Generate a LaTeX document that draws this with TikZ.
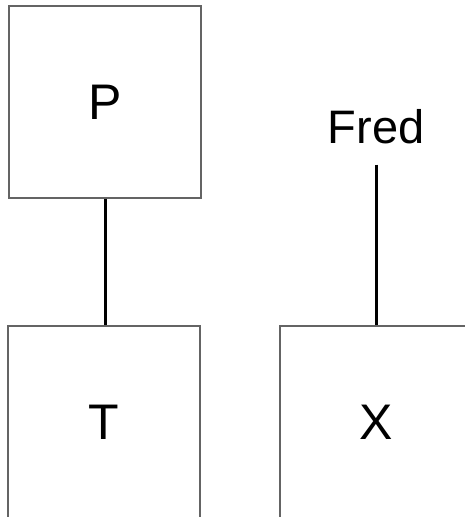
\documentclass[tikz,border=0pt]{standalone}
\usepackage{fontspec}
\setmainfont{Liberation Sans}
\definecolor{boxgray}{RGB}{100,100,100}
\begin{document}
\begin{tikzpicture}[x=1pt,y=-1pt,
  box/.style={draw=boxgray,line width=1.2pt,minimum width=192pt,minimum height=192pt,inner sep=0pt,font=\fontsize{50}{52}\selectfont},
  lbl/.style={inner sep=0pt,font=\fontsize{47}{49}\selectfont},
  link/.style={line width=3pt,black}]
\useasboundingbox (0,0) rectangle (465,517);
\clip (0,0) rectangle (465,517);
\fill[white] (0,0) rectangle (465,517);
\node[box] (P) at (105,102) {P};
\node[box] (T) at (104,422) {T};
\node[box] (X) at (376,422) {X};
\node[lbl,anchor=base] (F) at (376,143) {Fred};
\draw[link] (P.south) -- (P.south |- T.north);
\draw[link,shorten <=21pt] (F.south) -- (X.north);
\end{tikzpicture}
\end{document}
